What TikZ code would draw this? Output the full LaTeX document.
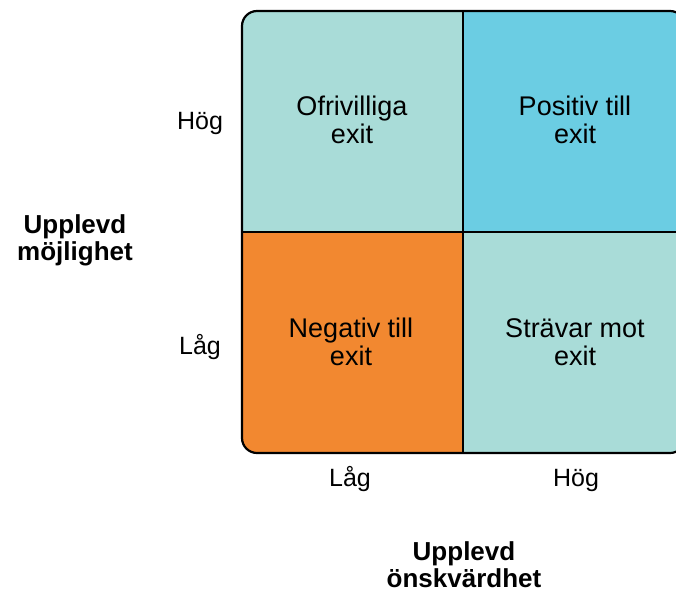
\documentclass[tikz,border=0pt]{standalone}
\usepackage{fontspec}
\setmainfont{Liberation Sans}
\definecolor{mintcell}{HTML}{A9DCD8}
\definecolor{skycell}{HTML}{6BCDE3}
\definecolor{orangecell}{HTML}{F28830}
\begin{document}
\begin{tikzpicture}[x=1pt,y=-1pt,
  celltext/.style={align=center,anchor=base,font=\fontsize{27}{28}\selectfont},
  ticklabel/.style={anchor=base,font=\fontsize{25}{27}\selectfont},
  axistitle/.style={align=center,anchor=base,font=\fontsize{26}{27}\selectfont\bfseries}]
\useasboundingbox (0,0) rectangle (676,594);
\clip (0,0) rectangle (676,594);
% quadrant fills inside the rounded frame
\begin{scope}
  \clip[rounded corners=15pt] (242,11) rectangle (685,453);
  \fill[mintcell]   (242,11)  rectangle (463,232);
  \fill[skycell]    (463,11)  rectangle (685,232);
  \fill[orangecell] (242,232) rectangle (463,453);
  \fill[mintcell]   (463,232) rectangle (685,453);
\end{scope}
% frame and dividers
\draw[line width=2.2pt,rounded corners=15pt] (242,11) rectangle (685,453);
\coordinate (midtop) at (463,11);
\coordinate (midbot) at (463,453);
\coordinate (midleft) at (242,232);
\coordinate (midright) at (685,232);
\draw[line width=2.2pt] (midtop) -- (midbot);
\draw[line width=2.2pt] (midleft) -- (midright);
% cell texts (anchored at the baseline of the last line)
\node[celltext] (tl) at (352,143) {Ofrivilliga\\exit};
\node[celltext] (tr) at (575,143) {Positiv till\\exit};
\node[celltext] (bl) at (351,365) {Negativ till\\exit};
\node[celltext] (br) at (575,365) {Strävar mot\\exit};
% axis tick labels
\node[ticklabel] (yhigh) at (200,129.5) {Hög};
\node[ticklabel] (ylow) at (200,354.5) {Låg};
\node[ticklabel] (xlow) at (350,486.5) {Låg};
\node[ticklabel] (xhigh) at (576,486.5) {Hög};
% axis titles
\node[axistitle] (ytitle) at (75,260) {Upplevd\\möjlighet};
\node[axistitle] (xtitle) at (464,587) {Upplevd\\önskvärdhet};
\end{tikzpicture}
\end{document}
